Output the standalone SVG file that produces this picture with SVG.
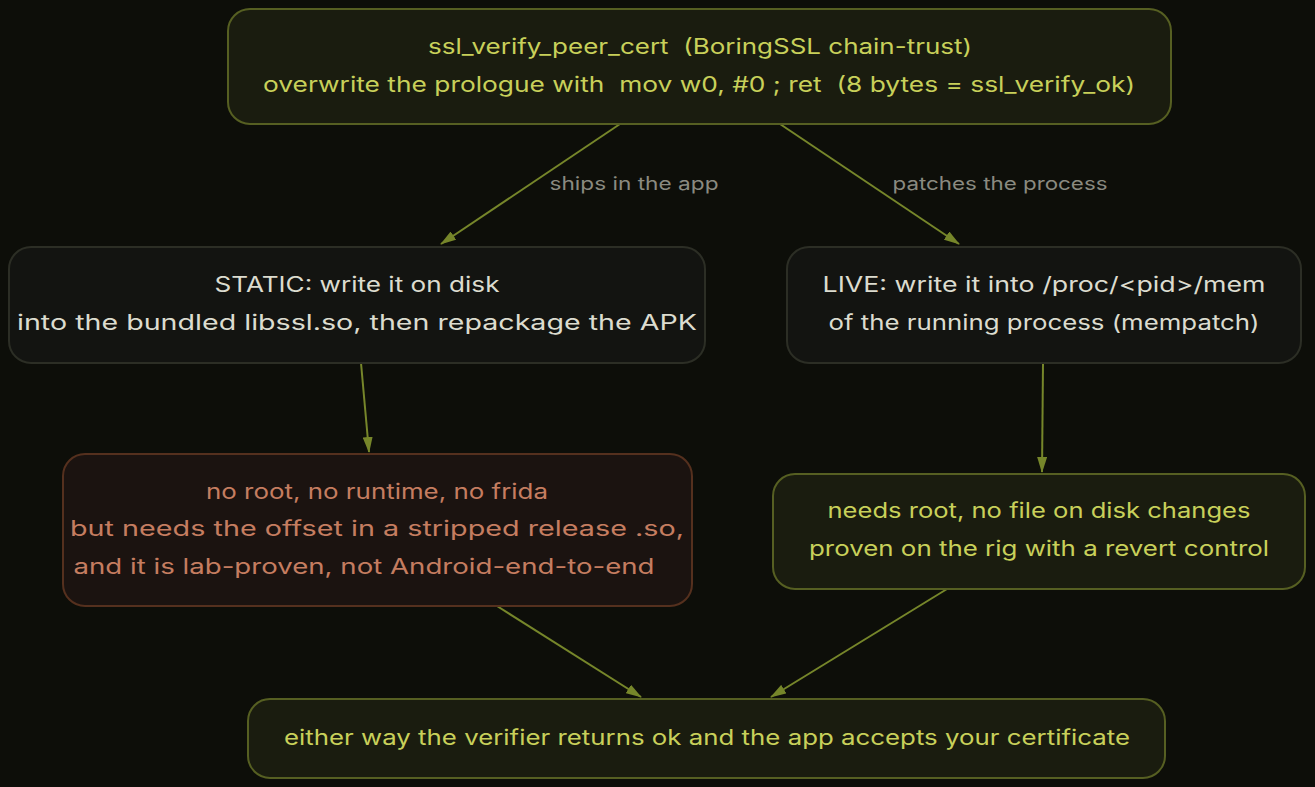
<svg xmlns="http://www.w3.org/2000/svg" width="1315" height="787" viewBox="0 0 1315 787">
<style>
text{font-family:Inter,"Noto Sans",sans-serif;font-size:21px;text-anchor:middle;white-space:pre}
.g rect{fill:#1a1c0f;stroke:#565f22;stroke-width:2}
.g text{fill:#c8d05a}
.n rect{fill:#131411;stroke:#2c2e25;stroke-width:2}
.n text{fill:#dcdccf}
.r rect{fill:#1b1310;stroke:#55301e;stroke-width:2}
.r text{fill:#c57d60}
.e line{stroke:#76862a;stroke-width:2;marker-end:url(#a)}
.l{fill:#8a8a80;font-size:18px}
</style>
<defs><marker id="a" markerWidth="16" markerHeight="10" refX="15" refY="5" orient="auto" markerUnits="userSpaceOnUse"><path d="M0,0L16,5L0,10z" fill="#76862a"/></marker></defs>
<rect width="1315" height="787" fill="#0d0e09"/>
<g id="connectors" class="e">
<line x1="620" y1="124" x2="441" y2="244"/>
<line x1="780" y1="124" x2="959" y2="244"/>
<line x1="361" y1="363" x2="369" y2="452"/>
<line x1="1043" y1="363" x2="1042" y2="472"/>
<line x1="497" y1="606" x2="641" y2="697"/>
<line x1="947" y1="589" x2="771" y2="697"/>
<text class="l" x="634" y="190" textLength="169" lengthAdjust="spacingAndGlyphs">ships in the app</text>
<text class="l" x="1000" y="190" textLength="215" lengthAdjust="spacingAndGlyphs">patches the process</text>
</g>
<g id="top" class="g"><rect x="228" y="9" width="943" height="115" rx="22"/><text x="700" y="54" xml:space="preserve" textLength="544" lengthAdjust="spacingAndGlyphs">ssl_verify_peer_cert  (BoringSSL chain-trust)</text><text x="699" y="92" xml:space="preserve" textLength="872" lengthAdjust="spacingAndGlyphs">overwrite the prologue with  mov w0, #0 ; ret  (8 bytes = ssl_verify_ok)</text></g>
<g id="static" class="n"><rect x="9" y="247" width="696" height="116" rx="22"/><text x="357" y="292" textLength="285" lengthAdjust="spacingAndGlyphs">STATIC: write it on disk</text><text x="357" y="330" textLength="680" lengthAdjust="spacingAndGlyphs">into the bundled libssl.so, then repackage the APK</text></g>
<g id="live" class="n"><rect x="787" y="247" width="514" height="116" rx="22"/><text x="1044" y="292" textLength="443" lengthAdjust="spacingAndGlyphs">LIVE: write it into /proc/&lt;pid&gt;/mem</text><text x="1044" y="330" textLength="431" lengthAdjust="spacingAndGlyphs">of the running process (mempatch)</text></g>
<g id="noroot" class="r"><rect x="63" y="454" width="629" height="152" rx="22"/><text x="377" y="499" textLength="342" lengthAdjust="spacingAndGlyphs">no root, no runtime, no frida</text><text x="377" y="536" textLength="614" lengthAdjust="spacingAndGlyphs">but needs the offset in a stripped release .so,</text><text x="364" y="574" textLength="581" lengthAdjust="spacingAndGlyphs">and it is lab-proven, not Android-end-to-end</text></g>
<g id="root" class="g"><rect x="773" y="474" width="532" height="115" rx="22"/><text x="1039" y="518" textLength="423" lengthAdjust="spacingAndGlyphs">needs root, no file on disk changes</text><text x="1039" y="556" textLength="460" lengthAdjust="spacingAndGlyphs">proven on the rig with a revert control</text></g>
<g id="end" class="g"><rect x="248" y="699" width="917" height="79" rx="22"/><text x="707" y="745" textLength="846" lengthAdjust="spacingAndGlyphs">either way the verifier returns ok and the app accepts your certificate</text></g>
</svg>
